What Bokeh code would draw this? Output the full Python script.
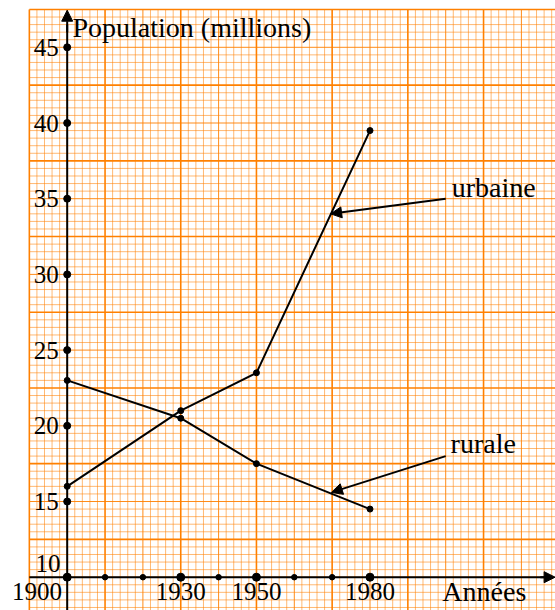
import numpy as np
from bokeh.plotting import figure
from bokeh.models import Range1d, Arrow, NormalHead, ColumnDataSource
from bokeh.core.properties import value
from bokeh.embed import file_html
from bokeh.resources import INLINE

# ---- data ----
years = [1900, 1930, 1950, 1980]
urbaine = [16, 21, 23.5, 39.5]
rurale = [23, 20.5, 17.5, 14.5]

y_ticks = [10, 15, 20, 25, 30, 35, 40, 45]
y_tick_labels = ["10", "15", "20", "25", "30", "35", "40", "45"]
x_ticks_major = [1900, 1930, 1950, 1980]
x_ticks_minor = [1910, 1920, 1940, 1960, 1970]
x_tick_labels = ["1900", "1930", "1950", "1980"]

# ---- geometry (pixels per unit) ----
PXY = 3.785   # px per year
PXV = 15.14   # px per million
W, H = 555, 610
x_left = 1900 - 66.7 / PXY
x_right = x_left + W / PXY
y_top = 10 + 576.7 / PXV
y_bottom = y_top - H / PXV

p = figure(width=W, height=H, output_backend="svg", toolbar_location=None,
           x_range=Range1d(x_left, x_right), y_range=Range1d(y_bottom, y_top),
           min_border=0, min_border_left=0, min_border_right=0,
           min_border_top=0, min_border_bottom=0)
p.axis.visible = False
p.grid.visible = False
p.outline_line_color = None
p.background_fill_color = "white"
p.border_fill_color = "white"

ORANGE = "#ff8000"
GX0, GY1 = 1890, 47.5

# millimetre paper
def grid_lines(level):
    xs0, ys0, xs1, ys1 = [], [], [], []
    k = 0
    x = GX0
    while x <= x_right + 1e-9:
        lvl = 2 if k % 10 == 0 else (1 if k % 5 == 0 else 0)
        if lvl == level:
            xs0.append(x); xs1.append(x); ys0.append(y_bottom - 1); ys1.append(GY1)
        k += 1
        x = GX0 + 2 * k
    k = 0
    y = GY1
    while y >= y_bottom - 1:
        lvl = 2 if k % 10 == 0 else (1 if k % 5 == 0 else 0)
        if lvl == level:
            xs0.append(GX0); xs1.append(x_right + 1); ys0.append(y); ys1.append(y)
        k += 1
        y = GY1 - 0.5 * k
    return xs0, ys0, xs1, ys1

for level, alpha, lw in [(0, 0.55, 1.0), (1, 0.9, 1.0), (2, 1.0, 1.6)]:
    a, b, c, d = grid_lines(level)
    p.segment(x0=a, y0=b, x1=c, y1=d, line_color=ORANGE, line_alpha=alpha, line_width=lw)

# axes
p.segment(x0=[GX0], y0=[10], x1=[x_right - 1], y1=[10], line_color="black", line_width=2)
p.add_layout(Arrow(end=NormalHead(size=11, fill_color="black", line_color="black"),
                   x_start=x_right - 4, y_start=10, x_end=x_right - 0.1, y_end=10,
                   line_color="black", line_width=2))
p.segment(x0=[1900], y0=[y_bottom - 1], x1=[1900], y1=[46.5], line_color="black", line_width=2)
p.add_layout(Arrow(end=NormalHead(size=11, fill_color="black", line_color="black"),
                   x_start=1900, y_start=46, x_end=1900, y_end=47.45,
                   line_color="black", line_width=2))

# tick dots
p.scatter(x=[1900] * len(y_ticks), y=y_ticks, size=7, color="black")
p.scatter(x=x_ticks_major, y=[10] * len(x_ticks_major), size=8, color="black")
p.scatter(x=x_ticks_minor, y=[10] * len(x_ticks_minor), size=5.5, color="black")

# data series
for series in (urbaine, rurale):
    p.line(x=years, y=series, line_color="black", line_width=2)
    p.scatter(x=years, y=series, size=6, color="black")

# annotation arrows
for (xs, ys, xe, ye) in [(2000, 35, 1969.6, 34.0), (2000, 18, 1969.8, 15.6)]:
    p.add_layout(Arrow(end=NormalHead(size=11, fill_color="black", line_color="black"),
                       x_start=xs, y_start=ys, x_end=xe, y_end=ye,
                       line_color="black", line_width=2))

FONT = value("Liberation Serif")
FS = value("25px")
FSW = value("28px")
XLAB_Y = 9.08

# y tick labels
ylab = ColumnDataSource(dict(x=[1897.8] * 7 + [1898.2], y=[15, 20, 25, 30, 35, 40, 45, 10.9],
                             t=y_tick_labels[1:] + y_tick_labels[:1]))
p.text(x="x", y="y", text="t", source=ylab, text_font=FONT, text_font_size=FS,
       text_align="right", text_baseline="middle", text_color="black")

# x tick labels
xlab = ColumnDataSource(dict(x=[1898.6, 1930, 1950, 1980], y=[XLAB_Y] * 4, t=x_tick_labels,
                             a=["right", "center", "center", "center"]))
p.text(x="x", y="y", text="t", source=xlab, text_font=FONT, text_font_size=FS,
       text_align="a", text_baseline="middle", text_color="black")

# other texts
p.text(x=[1901.4], y=[46.3], text=["Population (millions)"], text_font=FONT, text_font_size=FSW,
       text_align="left", text_baseline="middle", text_color="black")
p.text(x=[2010.2], y=[XLAB_Y], text=["Années"], text_font=FONT, text_font_size=FSW,
       text_align="center", text_baseline="middle", text_color="black")
p.text(x=[2001.6], y=[35.74], text=["urbaine"], text_font=FONT, text_font_size=FSW,
       text_align="left", text_baseline="middle", text_color="black")
p.text(x=[2001.3], y=[18.83], text=["rurale"], text_font=FONT, text_font_size=FSW,
       text_align="left", text_baseline="middle", text_color="black")

open("out.html", "w").write(file_html(p, INLINE))
